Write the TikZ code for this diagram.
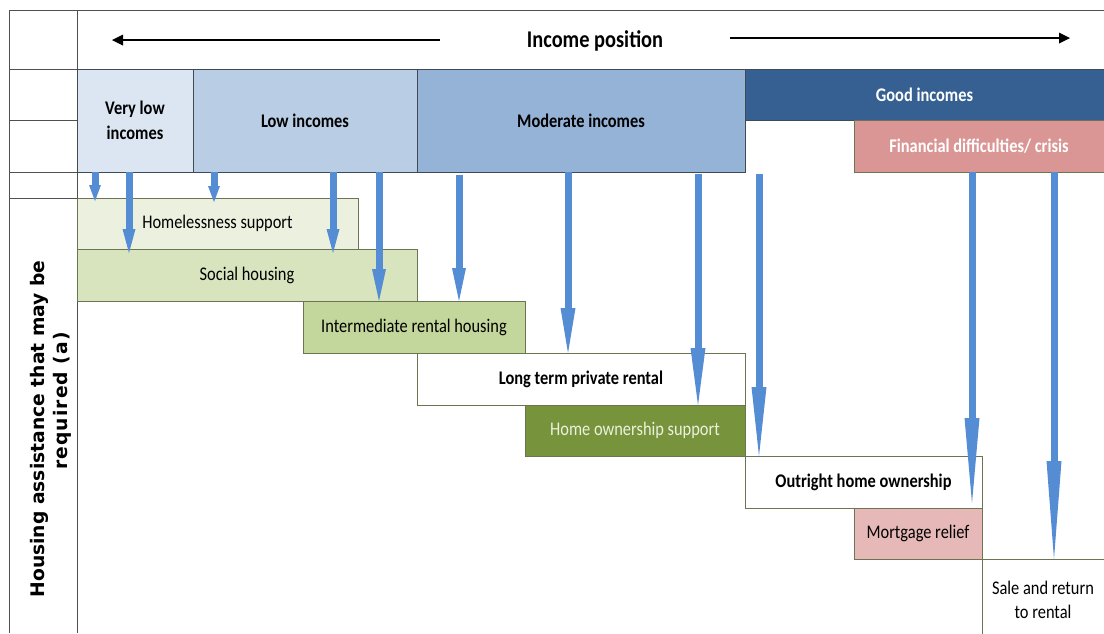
\documentclass[tikz,border=0pt]{standalone}
\usepackage{fontspec}
\setmainfont{Carlito}[FakeStretch=0.85]
\newfontfamily\vfont{DejaVu Sans}
\newfontfamily\vfontsp{DejaVu Sans}[LetterSpace=6]
\usetikzlibrary{arrows.meta,calc}
\definecolor{cvlow}{HTML}{DCE6F2}
\definecolor{clow}{HTML}{B9CDE5}
\definecolor{cmod}{HTML}{95B3D7}
\definecolor{cgood}{HTML}{376092}
\definecolor{cfin}{HTML}{DA9694}
\definecolor{chs}{HTML}{EBF1DE}
\definecolor{csh}{HTML}{D7E4BD}
\definecolor{cirh}{HTML}{C3D69B}
\definecolor{chos}{HTML}{77933C}
\definecolor{cmr}{HTML}{E6B9B8}
\definecolor{hdrline}{HTML}{3F4A55}
\definecolor{boxline}{HTML}{6B7552}
\definecolor{frameline}{HTML}{505050}
\definecolor{arrowc}{HTML}{548DD4}
\begin{document}
\begin{tikzpicture}[x=1pt,y=-1pt,
  hdr/.style={draw=hdrline, line width=0.9pt, anchor=north west, inner sep=0pt, outer sep=0pt, align=center, font=\bfseries\fontsize{19.3}{25}\selectfont},
  box/.style={draw=boxline, line width=0.9pt, anchor=north west, inner sep=0pt, outer sep=0pt, align=center, font=\fontsize{19.3}{24}\selectfont},
  boldbox/.style={box, font=\bfseries\fontsize{19.3}{24}\selectfont},
  frame/.style={draw=frameline, line width=0.9pt},
  barrow/.style n args={2}{draw=arrowc, line width=7pt, -{Triangle[length=#1, width=#2, line width=0pt]}},
  topar/.style={draw=black, line width=2.4pt, -{Triangle[length=11pt, width=11pt, line width=0pt]}}
]
\useasboundingbox (0,0) rectangle (1104,633);
% frame
\draw[frame] (9,10) -- (1104,10);
\draw[frame] (9,10) -- (9,633);
\draw[frame] (77,10) -- (77,633);
\foreach \yy in {69,120,172,198} \draw[frame] (9,\yy) -- (77,\yy);

% top row
\node[font=\bfseries\fontsize{24}{28}\selectfont] (ip) at (595,41) {Income position};
\coordinate (la) at (440,40);
\coordinate (lb) at (112,40);
\coordinate (ra) at (730,38);
\coordinate (rb) at (1070,38);
\draw[topar] (la) -- (lb);
\draw[topar] (ra) -- (rb);

% header boxes
\node[hdr, fill=cvlow, minimum width=116, minimum height=103] (vlow) at (77,69) {Very low\\incomes};
\node[hdr, fill=clow, minimum width=224, minimum height=103] (low) at (193,69) {Low incomes};
\node[hdr, fill=cmod, minimum width=328, minimum height=103] (mod) at (417,69) {Moderate incomes};
\node[hdr, fill=cgood, minimum width=359, minimum height=51, text=white] (good) at (745,69) {Good incomes};
\node[hdr, fill=cfin, minimum width=250, minimum height=52, text=white, draw=boxline] (fin) at (854,120) {Financial difficulties/ crisis};

% assistance boxes
\node[box, fill=chs, minimum width=281, minimum height=51] (hs) at (77,198) {Homelessness support};
\node[box, fill=csh, minimum width=340, minimum height=52] (sh) at (77,249) {Social housing};
\node[box, fill=cirh, minimum width=222, minimum height=52] (irh) at (303,301) {Intermediate rental housing};
\node[boldbox, fill=white, minimum width=328, minimum height=52] (ltpr) at (417,353) {Long term private rental};
\node[box, fill=chos, minimum width=220, minimum height=51, text=chs] (hos) at (525,405) {Home ownership support};
\node[boldbox, fill=white, minimum width=237, minimum height=52] (oho) at (745,456) {Outright home ownership};
\node[box, fill=cmr, minimum width=128, minimum height=51] (mr) at (854,508) {Mortgage relief};
\node[box, draw=none, minimum width=122, minimum height=82] (sale) at (982,559) {Sale and return\\to rental};
\draw[draw=boxline, line width=0.9pt] (sale.south west) -- (sale.north west) -- (sale.north east);

% vertical label
\node[rotate=90, align=center, font=\vfont\bfseries\fontsize{18.7}{23}\selectfont] (ylab) at (51,429) {Housing assistance that may be\\\hspace*{56pt}{\vfontsp\bfseries required (a)}};

% blue arrows
\draw[barrow={16pt}{12pt}] (95,0 |- vlow.south) -- ($(95,0 |- hs.north)+(0,3)$);
\draw[barrow={24pt}{13pt}] (129,0 |- vlow.south) -- ($(129,0 |- sh.north)+(0,4)$);
\draw[barrow={16pt}{12pt}] (214,0 |- low.south) -- ($(214,0 |- hs.north)+(0,4)$);
\draw[barrow={24pt}{13pt}] (333,0 |- low.south) -- ($(333,0 |- sh.north)+(0,4)$);
\draw[barrow={32pt}{14pt}] (379,0 |- low.south) -- (379,0 |- irh.north);
\draw[barrow={33pt}{14pt}] ($(459,0 |- mod.south)+(0,3)$) -- (459,0 |- irh.north);
\draw[barrow={45pt}{15pt}] (568,0 |- mod.south) -- (568,0 |- ltpr.north);
\draw[barrow={57pt}{15pt}] ($(698,0 |- mod.south)+(0,2)$) -- (698,0 |- hos.north);
\draw[barrow={69pt}{15pt}] ($(759,0 |- mod.south)+(0,2)$) -- (759,0 |- oho.north);
\draw[barrow={85pt}{15pt}] (972,0 |- fin.south) -- ($(972,0 |- mr.north)+(0,-5)$);
\draw[barrow={98pt}{15pt}] (1054,0 |- fin.south) -- (1054,0 |- sale.north);
\end{tikzpicture}
\end{document}
